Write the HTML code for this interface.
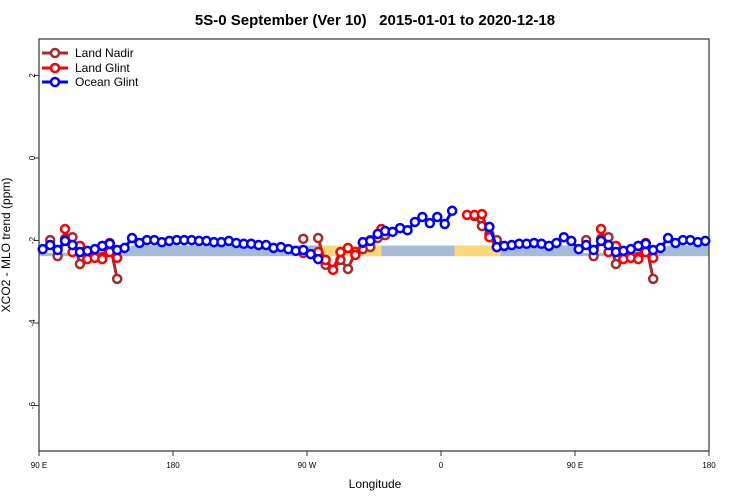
<!DOCTYPE html>
<html><head><meta charset="utf-8"><style>
body{margin:0;background:#fff;}
svg{display:block;font-family:"Liberation Sans",sans-serif;}
</style></head><body>
<svg id="chart" width="750" height="500">
<text x="375" y="25" text-anchor="middle" font-size="15" font-weight="bold" style="white-space:pre">5S-0 September (Ver 10)   2015-01-01 to 2020-12-18</text>
<g id="band"></g>
<g id="axes"></g>
<g id="series"></g>
<text x="375" y="488" text-anchor="middle" font-size="12">Longitude</text>
<text transform="translate(10,245) rotate(-90)" text-anchor="middle" font-size="12">XCO2 - MLO trend (ppm)</text>
<g>
<g><line x1="42" y1="53" x2="68" y2="53" stroke="#a52a2a" stroke-width="3"/><circle cx="55" cy="53" r="4" fill="#fff" stroke="#a52a2a" stroke-width="2.5"/><text x="75" y="57" font-size="12">Land Nadir</text></g>
<g><line x1="42" y1="68" x2="68" y2="68" stroke="#ff0000" stroke-width="3"/><circle cx="55" cy="68" r="4" fill="#fff" stroke="#ff0000" stroke-width="2.5"/><text x="75" y="72" font-size="12">Land Glint</text></g>
<g><line x1="42" y1="82" x2="68" y2="82" stroke="#0000ff" stroke-width="3"/><circle cx="55" cy="82" r="4" fill="#fff" stroke="#0000ff" stroke-width="2.5"/><text x="75" y="86" font-size="12">Ocean Glint</text></g>
</g>
</svg>
<script>
const xTicks=[90,180,270,360,450,540];
const xTickLabels=["90 E","180","90 W","0","90 E","180"];
const yTicks=[2,0,-2,-4,-6];
const oceanStart=92.5;
const oceanVals=[-2.21,-2.11,-2.23,-2.01,-2.11,-2.28,-2.25,-2.21,-2.13,-2.08,-2.23,-2.18,-1.94,-2.06,-1.99,-1.99,-2.04,-2.01,-1.99,-1.99,-1.99,-2.01,-2.01,-2.04,-2.04,-2.01,-2.06,-2.08,-2.08,-2.11,-2.11,-2.18,-2.16,-2.21,-2.25,-2.23,-2.33,-2.45,null,null,null,null,null,-2.04,-2.01,-1.84,-1.77,-1.79,-1.70,-1.75,-1.55,-1.43,-1.58,-1.43,-1.60,-1.28,null,null,null,null,-1.67,-2.16,-2.13,-2.11,-2.08,-2.08,-2.06,-2.08,-2.13,-2.06,-1.92,-2.01];
const glintLons=[107.5,112.5,117.5,122.5,127.5,132.5,137.5,142.5,267.5,277.5,282.5,287.5,292.5,297.5,302.5,307.5,312.5,320,377.5,382.5,387.5,392.5,397.5];
const glintVals=[-1.72,-2.28,-2.13,-2.45,-2.42,-2.45,-2.28,-2.42,-2.30,-2.28,-2.47,-2.71,-2.28,-2.18,-2.35,-2.06,-1.99,-1.72,-1.38,-1.38,-1.36,-1.92,-2.16];
const nadirLons=[97.5,102.5,107.5,112.5,117.5,122.5,127.5,132.5,137.5,142.5,267.5,277.5,282.5,287.5,292.5,297.5,302.5,307.5,312.5,317.5,322.5,382.5,387.5,392.5,397.5];
const nadirVals=[-1.99,-2.38,-1.96,-1.92,-2.57,-2.42,-2.42,-2.40,-2.06,-2.93,-1.96,-1.94,-2.59,-2.71,-2.47,-2.69,-2.28,-2.21,-2.16,-1.94,-1.87,-1.41,-1.65,-1.85,-1.99];

const L=39,R=709,T=39,B=451;
const X=l=>L+(l-90)*(R-L)/450;
const Y=v=>158-41.25*v;
const NS="http://www.w3.org/2000/svg";
function mk(tag,attrs,parent){const e=document.createElementNS(NS,tag);for(const k in attrs)e.setAttribute(k,attrs[k]);parent.appendChild(e);return e;}

const band=document.getElementById('band');
let b=mk('polygon',{points:`${X(90)},${Y(-2.3)} ${X(150)},${Y(-2.3)} ${X(152)},${Y(-2.12)} ${X(450)},${Y(-2.12)} ${X(450)},${Y(-2.3)} ${X(510)},${Y(-2.3)} ${X(512)},${Y(-2.12)} ${X(540)},${Y(-2.12)} ${X(540)},${Y(-2.38)} ${X(90)},${Y(-2.38)}`,fill:'#a5bcd9'},band);


[[280,320],[369,400]].forEach(r=>{
 const y=mk('rect',{x:X(r[0]),y:Y(-2.12),width:X(r[1])-X(r[0]),height:Y(-2.38)-Y(-2.12),fill:'#fcd87a'},band);
 
 
});

const ax=document.getElementById('axes');
const frame=mk('rect',{x:L,y:T,width:R-L,height:B-T,fill:'none',stroke:'#333','stroke-width':1.2},ax);


xTicks.forEach((t,i)=>{
 mk('line',{x1:X(t),x2:X(t),y1:B,y2:B+5,stroke:'#333'},ax);
 const tx=mk('text',{x:X(t),y:B+17,'text-anchor':'middle','font-size':8},ax);
 tx.textContent=xTickLabels[i];
 
 
});
yTicks.forEach(t=>{
 mk('line',{x1:L-5,x2:L,y1:Y(t),y2:Y(t),stroke:'#333'},ax);
 const tx=mk('text',{transform:`translate(${L-4},${Y(t)}) rotate(-90)`,'text-anchor':'middle','font-size':8},ax);
 tx.textContent=String(t);
 
 
});

const sg=document.getElementById('series');
function expand(lons,vals){const pts=[];lons.forEach((l,i)=>{if(vals[i]==null)return;pts.push([l,vals[i]]);if(l+360<=540)pts.push([l+360,vals[i]]);});pts.sort((a,b)=>a[0]-b[0]);return pts;}
function draw(pts,color,name){
 const g=mk('g',{},sg);
 
 
 let seg=[];const segs=[];
 pts.forEach((p,i)=>{if(i>0&&p[0]-pts[i-1][0]>5.6){segs.push(seg);seg=[];}seg.push(p);});
 segs.push(seg);
 segs.forEach(s=>{if(s.length>1)mk('polyline',{points:s.map(p=>X(p[0])+','+Y(p[1])).join(' '),fill:'none',stroke:color,'stroke-width':3},g);});
 pts.forEach(p=>{
  const c=mk('circle',{cx:X(p[0]),cy:Y(p[1]),r:4,fill:'#fff',stroke:color,'stroke-width':2.5},g);
  
  
 });
}
const oceanLons=oceanVals.map((v,i)=>oceanStart+5*i);
draw(expand(nadirLons,nadirVals),'#a52a2a','land-nadir-series');
draw(expand(glintLons,glintVals),'#ff0000','land-glint-series');
draw(expand(oceanLons,oceanVals),'#0000ff','ocean-glint-series');
</script>
</body></html>
